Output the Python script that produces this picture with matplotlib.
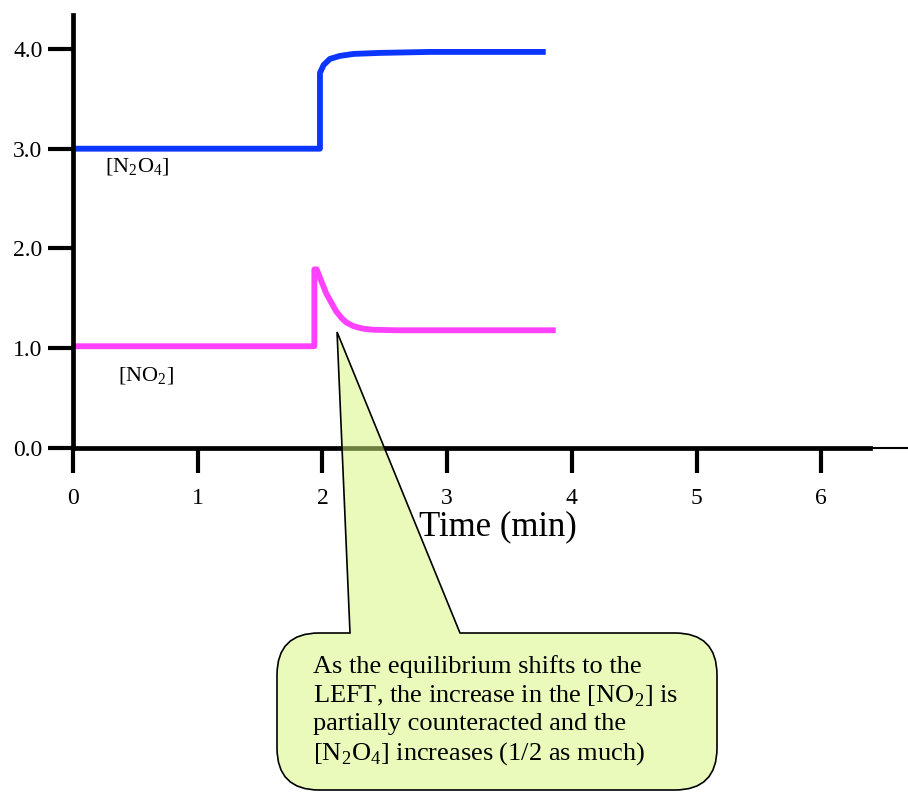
import matplotlib
matplotlib.use("Agg")
import matplotlib.pyplot as plt
from matplotlib.path import Path
from matplotlib.patches import PathPatch

plt.rcParams['font.family'] = ['Liberation Serif', 'DejaVu Serif']
plt.rcParams['mathtext.fontset'] = 'custom'
plt.rcParams['mathtext.rm'] = 'Liberation Serif'

# concentration vs time
n2o4_t = [0, 1.98, 1.98, 2.01, 2.06, 2.14, 2.25, 2.46, 2.86, 3.79]
n2o4_c = [3.0, 3.0, 3.76, 3.84, 3.90, 3.93, 3.95, 3.96, 3.97, 3.97]
no2_t = [0, 1.935, 1.935, 1.954, 2.03, 2.11, 2.155, 2.19, 2.25, 2.33, 2.41, 2.60, 3.87]
no2_c = [1.02, 1.02, 1.79, 1.79, 1.55, 1.37, 1.30, 1.26, 1.22, 1.195, 1.185, 1.18, 1.18]

x_ticks = [0, 1, 2, 3, 4, 5, 6]
y_ticks = [0.0, 1.0, 2.0, 3.0, 4.0]
y_labels = ['0.0', '1.0', '2.0', '3.0', '4.0']

callout = ("As the equilibrium shifts to the\n"
           "LEFT, the increase in the [NO$_2$] is\n"
           "partially counteracted and the\n"
           "[N$_2$O$_4$] increases (1/2 as much)")

W, H = 908, 792
fig = plt.figure(figsize=(W / 100, H / 100), dpi=100)
ax = fig.add_axes([73 / W, (H - 448) / H, 797 / W, 433 / H])
ax.set_xlim(0, 6.39)
ax.set_ylim(0, 4.34)

ax.plot(n2o4_t, n2o4_c, color='#0a36ff', lw=4.2, solid_capstyle='butt')
ax.plot(no2_t, no2_c, color='#ff40ff', lw=4.2, solid_capstyle='butt')

ax.text(0.257, 2.81, '[N$_2$O$_4$]', fontsize=16, ha='left', va='center')
ax.text(0.36, 0.72, '[NO$_2$]', fontsize=16, ha='left', va='center')

for side in ['top', 'right']:
  ax.spines[side].set_visible(False)
for side in ['left', 'bottom']:
  ax.spines[side].set_linewidth(3.4)
# thin tail of the x axis
ax.plot([6.39, 6.70], [0, 0], color='k', lw=1.5, clip_on=False)

ax.set_xticks(x_ticks)
ax.set_xticklabels([str(t) for t in x_ticks])
ax.set_yticks(y_ticks)
ax.set_yticklabels(y_labels)
ax.tick_params(axis='both', direction='out', length=18, width=3, labelsize=17)
ax.tick_params(axis='x', pad=11)
ax.tick_params(axis='y', pad=4)

ax.set_xlabel('Time (min)', fontsize=25)
ax.xaxis.set_label_coords(0.533, -0.143)
ax.xaxis.label.set_va('top')

# callout bubble, drawn on an overlay in pixel coordinates
ov = fig.add_axes([0, 0, 1, 1])
ov.set_xlim(0, W)
ov.set_ylim(H, 0)
ov.axis('off')

fig.canvas.draw()
tx, ty = ax.transData.transform((2.117, 1.163))
tip = (tx, H - ty)

L, R, T, B, r = 277, 717, 633, 790, 42
verts = [(350, T), tip, (460, T), (R - r, T),
         (R, T), (R, T + r), (R, B - r),
         (R, B), (R - r, B), (L + r, B),
         (L, B), (L, B - r), (L, T + r),
         (L, T), (L + r, T), (350, T)]
codes = [Path.MOVETO, Path.LINETO, Path.LINETO, Path.LINETO,
         Path.CURVE3, Path.CURVE3, Path.LINETO,
         Path.CURVE3, Path.CURVE3, Path.LINETO,
         Path.CURVE3, Path.CURVE3, Path.LINETO,
         Path.CURVE3, Path.CURVE3, Path.CLOSEPOLY]
ov.add_patch(PathPatch(Path(verts, codes), facecolor='#d5f67b', alpha=0.52,
                       edgecolor='none'))
ov.add_patch(PathPatch(Path(verts, codes), facecolor='none',
                       edgecolor='black', lw=1.2))
ov.text(313, 655, callout, fontsize=19, ha='left', va='top',
        linespacing=1.27)

fig.savefig('out.png', dpi=100)
